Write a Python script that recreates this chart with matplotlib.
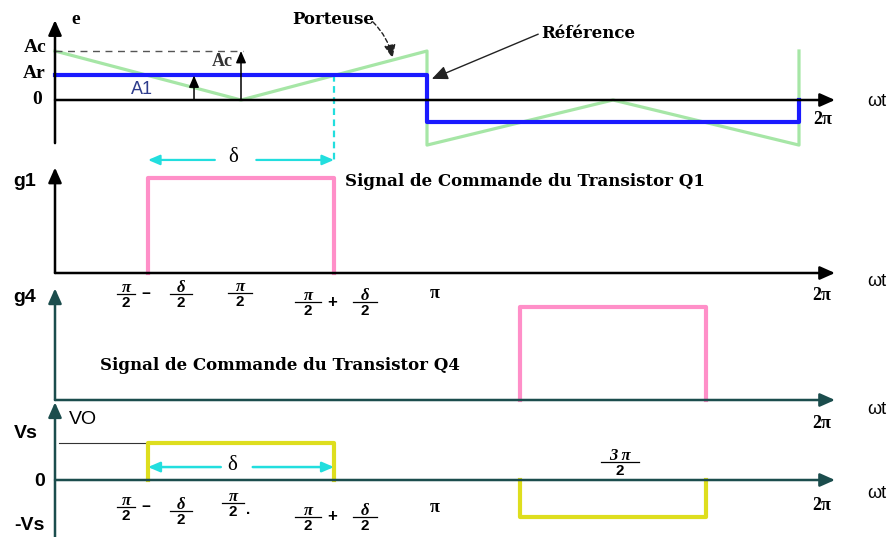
import numpy as np
import matplotlib
matplotlib.use("Agg")
import matplotlib.pyplot as plt

W, H = 888, 537
PI = np.pi

# horizontal layout: wt = 0 sits at x0 pixels, pi spans 372 pixels
X0 = 55
PX_PER_RAD = 372 / PI
WT_END = (835 - X0) / PX_PER_RAD      # tip of the wt axis arrows

# modulation parameters (values in units of Ac)
Ac = 1.0
Ar = 0.5
delta = PI / 2

# carrier (triangle) and reference (square) of the top panel
carrier_wt = [0, PI / 2, PI, PI, 3 * PI / 2, 2 * PI, 2 * PI]
carrier_e = [1.0, 0.0, 1.0, -0.92, 0.0, -0.92, 1.0]
ref_wt = [0, PI, PI, 2 * PI, 2 * PI]
ref_e = [0.5, 0.5, -0.45, -0.45, 0.0]

# gate signals
g1_wt = [PI / 2 - delta / 2, PI / 2 - delta / 2, PI / 2 + delta / 2, PI / 2 + delta / 2]
g1_val = [0, 1, 1, 0]
g4_wt = [3 * PI / 2 - delta / 2, 3 * PI / 2 - delta / 2, 3 * PI / 2 + delta / 2, 3 * PI / 2 + delta / 2]
g4_val = [0, 1, 1, 0]

# output voltage (units of Vs)
vo_pos_wt = g1_wt
vo_pos_val = [0, 1, 1, 0]
vo_neg_wt = g4_wt
vo_neg_val = [0, -1, -1, 0]

GREEN = '#a6e6a6'
BLUE = '#1a1aff'
PINK = '#ff8fc8'
YELLOW = '#dede1e'
CYAN = '#22dede'
TEAL = '#1b4d4d'

fig = plt.figure(figsize=(W / 100, H / 100), dpi=100)


def panel(y0_px, unit_px):
    # full-figure transparent axes; zero at y0_px, one unit = unit_px pixels
    ax = fig.add_axes([0, 0, 1, 1])
    ax.set_xlim(-X0 / PX_PER_RAD, (W - X0) / PX_PER_RAD)
    ax.set_ylim(-(H - y0_px) / unit_px, y0_px / unit_px)
    ax.axis('off')
    ax.patch.set_alpha(0)
    return ax


def arrow(ax, start, end, color, lw=1.8, style='-|>,head_length=0.9,head_width=0.4', ls='-'):
    ax.annotate('', xy=end, xytext=start,
                arrowprops=dict(arrowstyle=style, color=color, lw=lw, ls=ls,
                                shrinkA=0, shrinkB=0))


serif_b = dict(family='Liberation Serif', weight='bold')
title_f = dict(family='DejaVu Serif', weight='bold')
sans_b = dict(family='Liberation Sans', weight='bold')
sans = dict(family='Liberation Sans')
small_head = '-|>,head_length=0.7,head_width=0.3'

# ---------------- top panel: carrier and reference ----------------
ax1 = panel(100, 49)
ax1.plot(carrier_wt, carrier_e, color=GREEN, lw=2.3, zorder=2)
ax1.plot(ref_wt, ref_e, color=BLUE, lw=3, zorder=3)
arrow(ax1, (0, 0), (WT_END, 0), 'black')
arrow(ax1, (0, -0.88), (0, 1.63), 'black')
ax1.plot([0, PI / 2 + 0.02], [Ac, Ac], color='#555555', lw=1, ls=(0, (5, 4)))
arrow(ax1, (PI / 2, 0), (PI / 2, Ac), 'black', lw=1.1, style=small_head)
arrow(ax1, (1.174, 0), (1.174, Ar), 'black', lw=1.1, style=small_head)
ax1.plot([PI / 2 + delta / 2] * 2, [Ar, -1.22], color=CYAN, lw=1.6, ls=(0, (3, 2)))

# ---------------- g1 panel ----------------
ax2 = panel(273, 95)
ax2.plot(g1_wt, g1_val, color=PINK, lw=3, zorder=3)
arrow(ax2, (0, 0), (WT_END, 0), 'black')
arrow(ax2, (0, 0), (0, 1.11), 'black')
arrow(ax2, (1.35, 1.19), (PI / 2 - delta / 2, 1.19), CYAN, lw=1.6, style=small_head)
arrow(ax2, (1.7, 1.19), (PI / 2 + delta / 2, 1.19), CYAN, lw=1.6, style=small_head)

# ---------------- g4 panel ----------------
ax3 = panel(400, 93)
ax3.plot(g4_wt, g4_val, color=PINK, lw=3, zorder=3)
arrow(ax3, (0, 0), (WT_END, 0), TEAL)
arrow(ax3, (0, 0), (0, 1.2), TEAL)

# ---------------- output voltage panel ----------------
ax4 = panel(480, 37)
ax4.plot(vo_pos_wt, vo_pos_val, color=YELLOW, lw=3, zorder=3)
ax4.plot(vo_neg_wt, vo_neg_val, color=YELLOW, lw=3, zorder=3)
arrow(ax4, (0, 0), (WT_END, 0), TEAL)
arrow(ax4, (0, -1.6), (0, 2.1), TEAL)
ax4.plot([0.03, PI / 2 - delta / 2], [1, 1], color='#333333', lw=0.8)
arrow(ax4, (1.4, 0.35), (PI / 2 - delta / 2, 0.35), CYAN, lw=1.8, style=small_head)
arrow(ax4, (1.67, 0.35), (PI / 2 + delta / 2, 0.35), CYAN, lw=1.8, style=small_head)

# ---------------- labels, placed in figure pixels ----------------
lab = fig.add_axes([0, 0, 1, 1])
lab.set_xlim(0, W)
lab.set_ylim(H, 0)
lab.axis('off')
lab.patch.set_alpha(0)


def txt(x, y, s, size=13, ha='center', **kw):
    lab.text(x, y, s, ha=ha, va='center', fontsize=size, **kw)


def frac(x, y, num, den, w=18):
    # hand-set fraction: numerator over a short bar over the denominator
    lab.plot([x - w / 2, x + w / 2], [y, y], color='black', lw=0.9)
    lab.text(x, y - 2, num, ha='center', va='baseline', fontsize=12,
             family='Liberation Serif', weight='bold', style='italic')
    lab.text(x, y + 2, den, ha='center', va='top', fontsize=11, **sans_b)


# top panel
txt(76, 20, 'e', 14, **serif_b)
txt(35, 47, 'Ac', 14, **serif_b)
txt(34, 74, 'Ar', 14, **serif_b)
txt(37, 99, '0', 14, **serif_b)
txt(222, 61, 'Ac', 13, color='#333333', **serif_b)
txt(142, 90, 'A1', 13, color='#2e3c8c', **sans)
txt(823, 119, '2π', 13, **serif_b)
txt(877, 101, 'ωt', 13, **sans)
txt(333, 20, 'Porteuse', 12, **title_f)
lab.annotate('', xy=(2.85, (2.85 - PI / 2) / (PI / 2) + 0.04), xycoords=ax1.transData,
             xytext=(373, 22), textcoords='data',
             arrowprops=dict(arrowstyle='-|>,head_length=0.8,head_width=0.35',
                             color='#222222', lw=1, ls=(0, (3, 2)),
                             connectionstyle='arc3,rad=-0.15', shrinkA=0, shrinkB=0))
lab.annotate('Référence', xy=(PI + 0.03, Ar - 0.08), xycoords=ax1.transData,
             xytext=(588, 33), textcoords='data', ha='center', va='center',
             fontsize=12, **title_f,
             arrowprops=dict(arrowstyle='-|>,head_length=0.8,head_width=0.35',
                             color='#222222', lw=1, shrinkA=0, shrinkB=1,
                             relpos=(0, 0.5)))

# g1 panel
txt(233, 157, 'δ', 15, family='Liberation Serif')
txt(25, 181, 'g1', 14, **sans_b)
txt(345, 182, 'Signal de Commande du Transistor Q1', 12, ha='left', **title_f)
frac(126, 294, 'π', '2')
txt(146, 294, '−', 11, **sans_b)
frac(181, 294, 'δ', '2', w=22)
frac(240, 293, 'π', '2', w=24)
frac(308, 302, 'π', '2', w=26)
txt(332, 302, '+', 12, **sans_b)
frac(365, 302, 'δ', '2', w=24)
txt(435, 294, 'π', 13, **serif_b)
txt(822, 296, '2π', 13, **serif_b)
txt(877, 281, 'ωt', 13, **sans)

# g4 panel
txt(25, 297, 'g4', 14, **sans_b)
txt(100, 365, 'Signal de Commande du Transistor Q4', 12, ha='left', **title_f)
txt(822, 424, '2π', 13, **serif_b)
txt(877, 410, 'ωt', 13, **sans)

# output voltage panel
txt(83, 419, 'VO', 14, **sans)
txt(26, 433, 'Vs', 14, **sans_b)
txt(40, 481, '0', 14, **sans_b)
txt(29, 525, '-Vs', 14, **sans_b)
txt(232, 465, 'δ', 15, family='Liberation Serif')
frac(126, 507, 'π', '2')
txt(146, 507, '−', 11, **sans_b)
frac(181, 511, 'δ', '2', w=22)
frac(233, 503, 'π', '2', w=22)
txt(248, 510, '.', 11, **sans_b)
frac(308, 517, 'π', '2', w=26)
txt(332, 516, '+', 12, **sans_b)
frac(365, 517, 'δ', '2', w=24)
txt(435, 508, 'π', 13, **serif_b)
frac(620, 462, '3 π', '2', w=38)
txt(822, 506, '2π', 13, **serif_b)
txt(877, 493, 'ωt', 13, **sans)

fig.savefig('out.png', dpi=100)
